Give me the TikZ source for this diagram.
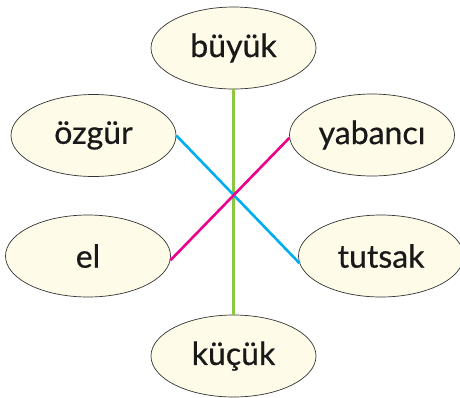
\documentclass[tikz,border=0pt]{standalone}
\usepackage{fontspec}
\setmainfont{Lato}[FakeBold=0.6]
\usetikzlibrary{shapes.geometric}
\definecolor{fillc}{HTML}{FEFBE8}
\definecolor{linegreen}{HTML}{8DC63F}
\definecolor{lineblue}{HTML}{00AEEF}
\definecolor{linemag}{HTML}{EC008C}
\begin{document}
\begin{tikzpicture}[x=1pt,y=-1pt,
  word/.style={ellipse,draw=black!80,line width=0.7pt,fill=fillc,minimum width=165pt,minimum height=82pt,inner sep=0pt,font=\fontsize{32}{36}\selectfont,text=black!90},
  link/.style={line width=2.6pt}]
\useasboundingbox (0,0) rectangle (460,397);
\node[word] (buyuk) at (233.5,48) {büyük};
\node[word] (ozgur) at (93.5,135.5) {özgür};
\node[word] (yabanci) at (372,135) {yabancı};
\node[word] (el) at (88,256) {el};
\node[word] (tutsak) at (381,256) {tutsak};
\node[word] (kucuk) at (233.5,356) {küçük};
\draw[link,linegreen] (buyuk.south) -- (kucuk.north);
\draw[link,lineblue] (ozgur.east) -- (tutsak.185);
\draw[link,linemag] (yabanci.182) -- (el.-3);
\end{tikzpicture}
\end{document}
